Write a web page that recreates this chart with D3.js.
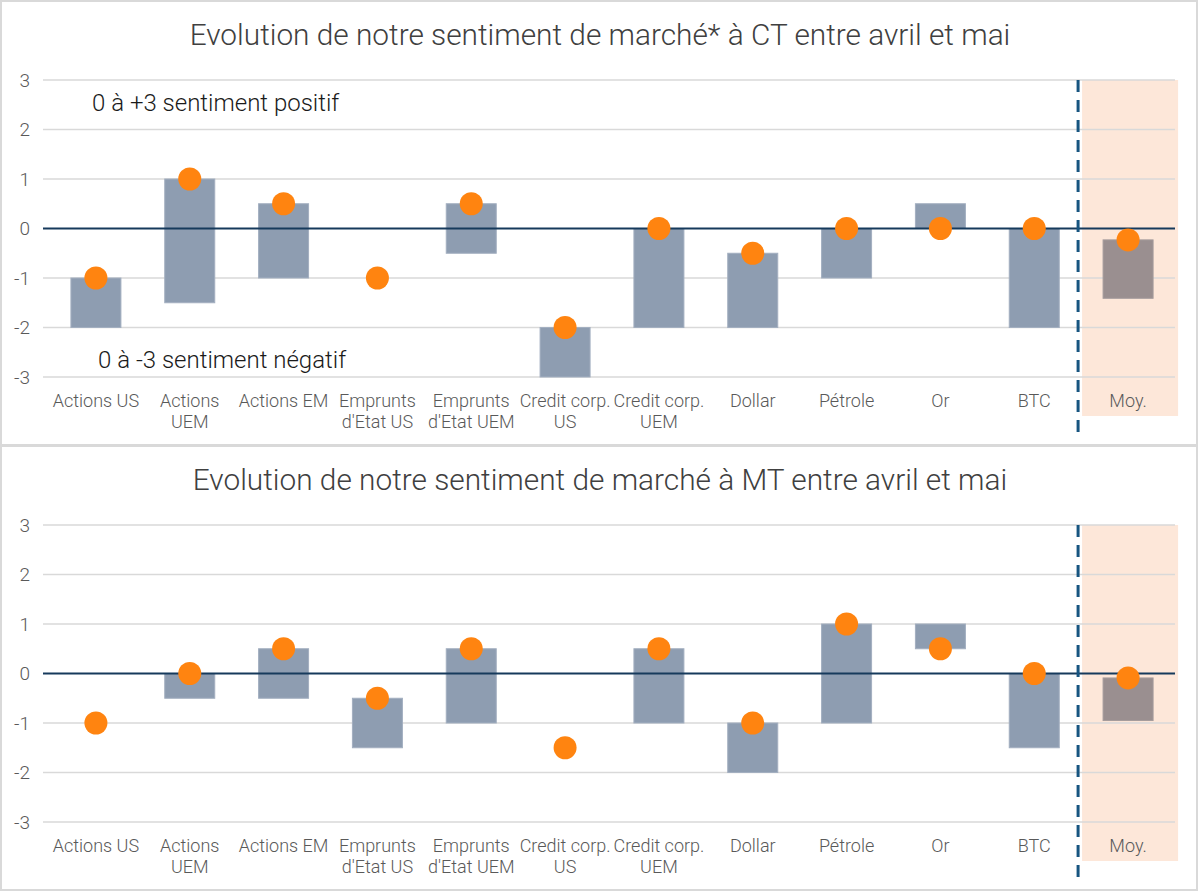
<!DOCTYPE html>
<html><head><meta charset="utf-8">
<script src="https://cdn.jsdelivr.net/npm/d3@7"></script>
<style>body{margin:0;background:#fff;}svg{display:block;font-family:Roboto,"Noto Sans",sans-serif;}</style>
</head><body><svg id="c" width="1200" height="893"></svg>
<script>
const categories = [["Actions US"],["Actions","UEM"],["Actions EM"],["Emprunts","d'Etat US"],["Emprunts","d'Etat UEM"],["Credit corp.","US"],["Credit corp.","UEM"],["Dollar"],["Pétrole"],["Or"],["BTC"],["Moy."]];
const ctApril = [-2,-1.5,-1,-1,-0.5,-3,-2,-2,-1,0.5,-2,-1.41];
const ctMay   = [-1, 1, 0.5,-1, 0.5,-2, 0,-0.5, 0, 0, 0,-0.23];
const mtApril = [-1,-0.5,-0.5,-1.5,-1,-1.5,-1,-2,-1,1,-1.5,-0.95];
const mtMay   = [-1, 0, 0.5,-0.5, 0.5,-1.5, 0.5,-1, 1, 0.5, 0,-0.09];
const yTicks = [3,2,1,0,-1,-2,-3];
const titles = ["Evolution de notre sentiment de marché* à CT entre avril et mai","Evolution de notre sentiment de marché à MT entre avril et mai"];
const notes = ["0 à +3 sentiment positif","0 à -3 sentiment négatif"];

const svg = d3.select("#c");
const keys = categories.map(c=>c.join(" "));
const x = d3.scaleBand().domain(keys).range([49,1175]);
const y = d3.scaleLinear().domain([-3,3]).range([377,80]);
const barW = 50;

function panel(off, april, may, title, showNotes){
  const g = svg.append("g").attr("transform",`translate(0,${off})`);
  g.append("rect").attr("x",1).attr("y",1).attr("width",1196).attr("height",444)
    .attr("fill","#fff").attr("stroke","#d9d9d9").attr("stroke-width",2);
  g.append("text").attr("x",600).attr("y",45).attr("text-anchor","middle")
    .attr("font-size",29.8).attr("font-weight",300).attr("fill","#404040").text(title);
  const mk = keys[keys.length-1];
  const mc = x(mk)+x.bandwidth()/2;
  g.append("rect").attr("x",mc-46).attr("y",y(3)).attr("width",96).attr("height",416-80)
    .attr("fill","#fde7d9");
  g.selectAll(".grid").data(yTicks.filter(t=>t!==0)).join("line")
    .attr("x1",43).attr("x2",1175).attr("y1",d=>y(d)).attr("y2",d=>y(d))
    .attr("stroke","#d9d9d9").attr("stroke-width",1.5);
  g.selectAll(".tick").data(yTicks).join("text")
    .attr("x",30).attr("y",d=>y(d)).attr("dy","0.35em").attr("text-anchor","end")
    .attr("font-size",19).attr("font-weight",300).attr("fill","#595959").text(d=>d);
  const data = keys.map((k,i)=>({k,a:april[i],m:may[i],moy:i===keys.length-1}));
  g.selectAll(".bar").data(data.filter(d=>d.a!==d.m)).join("rect")
    .attr("x",d=>x(d.k)+(x.bandwidth()-barW)/2).attr("width",barW)
    .attr("y",d=>y(Math.max(d.a,d.m))).attr("height",d=>Math.abs(y(d.a)-y(d.m)))
    .attr("fill",d=>d.moy?"#9a8f90":"#8e9db1").attr("stroke",d=>d.moy?"#a59c9d":"#a3afc0").attr("stroke-width",1);
  g.append("line").attr("x1",43).attr("x2",1175).attr("y1",y(0)).attr("y2",y(0))
    .attr("stroke","#163a5c").attr("stroke-width",2);
  g.append("line").attr("x1",mc-50).attr("x2",mc-50).attr("y1",y(3)).attr("y2",436)
    .attr("stroke","#175580").attr("stroke-width",3).attr("stroke-dasharray","12,8");
  g.selectAll(".dot").data(data).join("circle")
    .attr("cx",d=>x(d.k)+x.bandwidth()/2).attr("cy",d=>y(d.m)).attr("r",11.5)
    .attr("fill","#ff8410");
  const lab = g.selectAll(".xl").data(categories).join("text")
    .attr("x",(d,i)=>x(keys[i])+x.bandwidth()/2).attr("y",407).attr("text-anchor","middle")
    .attr("font-size",18).attr("font-weight",300).attr("fill","#595959");
  lab.selectAll("tspan").data(d=>d).join("tspan")
    .attr("x",function(){return this.parentNode.getAttribute("x");})
    .attr("dy",(d,i)=>i===0?0:21).text(d=>d);
  if(showNotes){
    g.append("text").attr("x",92).attr("y",111).attr("font-size",24).attr("fill","#1a1a1a").attr("font-weight",300).text(notes[0]);
    g.append("text").attr("x",98).attr("y",368).attr("font-size",24).attr("fill","#1a1a1a").attr("font-weight",300).text(notes[1]);
  }
}
panel(0, ctApril, ctMay, titles[0], true);
panel(445, mtApril, mtMay, titles[1], false);
</script></body></html>
